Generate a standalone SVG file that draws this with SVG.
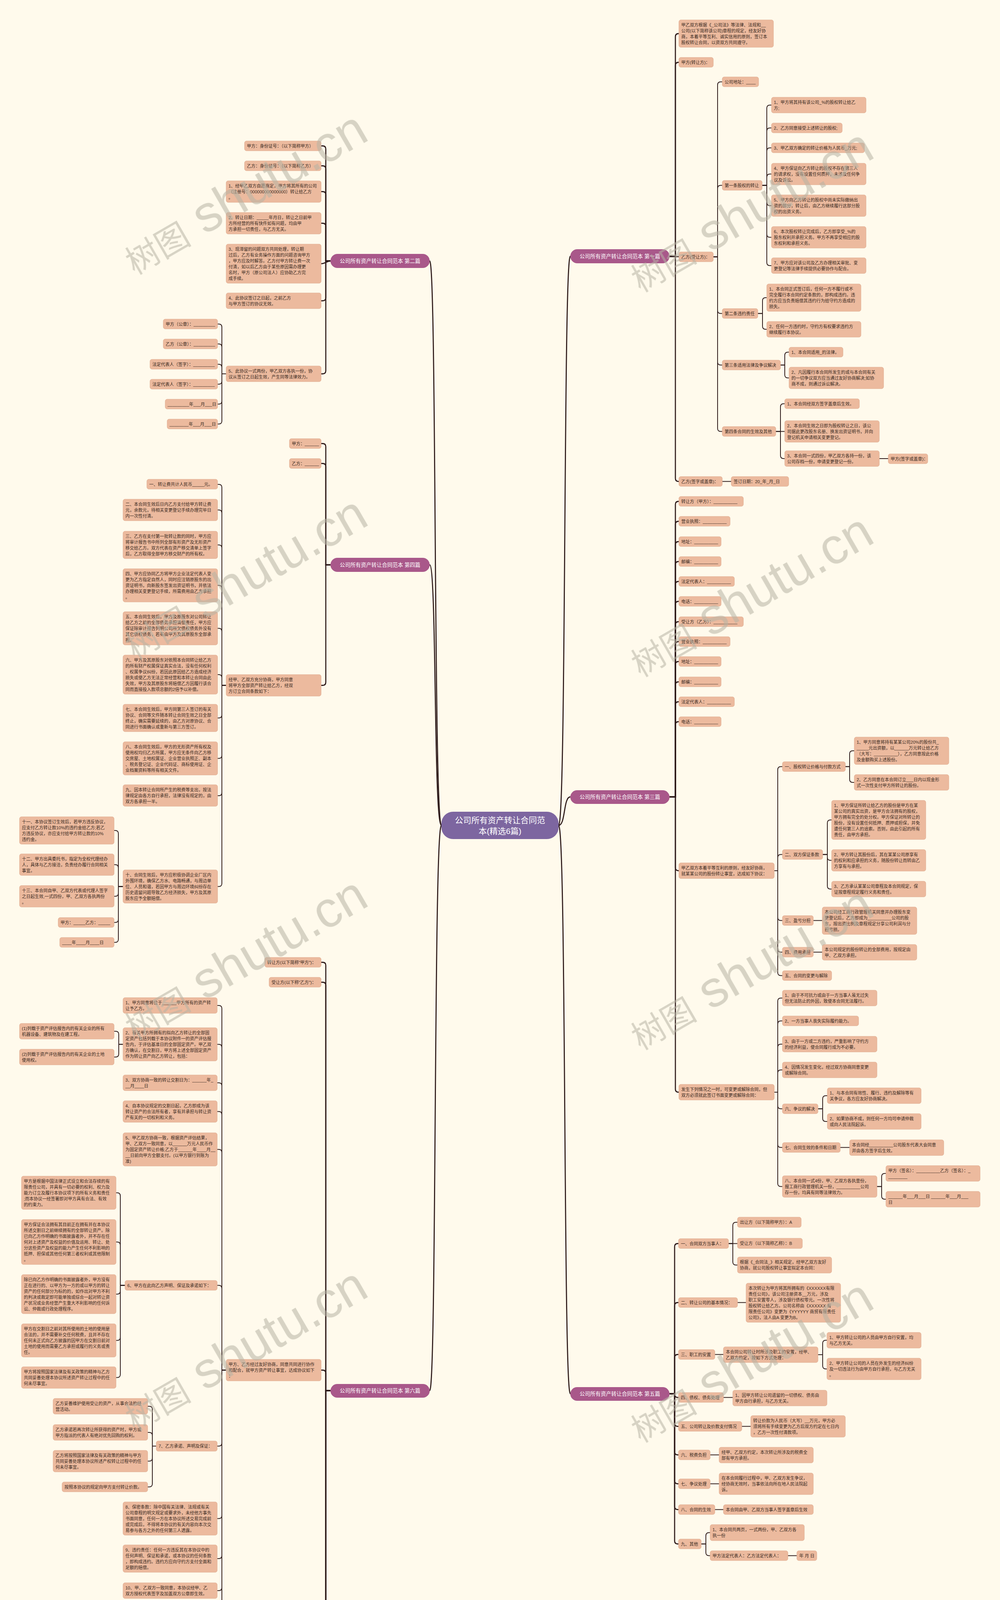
<svg xmlns="http://www.w3.org/2000/svg" width="2560" height="4723" viewBox="0 0 2560 4723">
<style>
.bg{fill:#fffaec}
.n rect{fill:#ecba9e;stroke:#e0ad91;stroke-width:1}
text{font-family:"Liberation Sans","Noto Sans CJK SC",sans-serif}
.t{font-size:11px;fill:#3a2a22}
.sec rect{fill:#a9588a}
.sec text{font-size:13.5px;fill:#ffffff;text-anchor:middle}
.root rect{fill:#7d66a0}
.root text{font-size:21px;fill:#ffffff;text-anchor:middle}
.c path{fill:none;stroke:#2f1c1c;stroke-width:2}
.c .k{stroke-width:2.8}
.wm{fill:#b7b3a5;opacity:.55;font-family:"Liberation Serif","Noto Sans CJK SC",serif}
</style>
<rect class="bg" x="0" y="0" width="2560" height="4723"/>

<g id="connectors" class="c">
<path class="k" d="M1430 2113 C1450 2113 1442 656 1460 656"/>
<path class="k" d="M1430 2113 C1448 2113 1442 2040 1460 2040"/>
<path class="k" d="M1430 2113 C1450 2113 1442 3568 1460 3568"/>
<path class="k" d="M1130 2113 C1110 2113 1118 668 1100 668"/>
<path class="k" d="M1130 2113 C1110 2113 1118 1446 1100 1446"/>
<path class="k" d="M1130 2113 C1110 2113 1118 3560 1100 3560"/>
<path class="k" d="M1714 656 H1729 V94 Q1729 86 1737 86 H1738"/>
<path class="k" d="M1714 656 H1729 V167.5 Q1729 159.5 1737 159.5 H1738"/>
<path class="k" d="M1714 657 H1738"/>
<path class="k" d="M1714 656 H1729 V1224.5 Q1729 1232.5 1737 1232.5 H1738"/>
<path d="M1826 657.5 H1837 V217.5 Q1837 209.5 1845 209.5 H1849"/>
<path d="M1826 657.5 H1837 V482.5 Q1837 474.5 1845 474.5 H1849"/>
<path d="M1826 657.5 H1837 V794.5 Q1837 802.5 1845 802.5 H1849"/>
<path d="M1826 657.5 H1837 V926.5 Q1837 934.5 1845 934.5 H1849"/>
<path d="M1826 657.5 H1837 V1096.5 Q1837 1104.5 1845 1104.5 H1849"/>
<path d="M1951 474.5 H1963 V277 Q1963 269 1971 269 H1975"/>
<path d="M1951 474.5 H1963 V335.5 Q1963 327.5 1971 327.5 H1975"/>
<path d="M1951 474.5 H1963 V386.5 Q1963 378.5 1971 378.5 H1975"/>
<path d="M1951 474.5 H1963 V453.5 Q1963 445.5 1971 445.5 H1975"/>
<path d="M1951 474.5 H1963 V518.5 Q1963 526.5 1971 526.5 H1975"/>
<path d="M1951 474.5 H1963 V599.5 Q1963 607.5 1971 607.5 H1975"/>
<path d="M1951 474.5 H1963 V672 Q1963 680 1971 680 H1975"/>
<path d="M1940 802.5 H1952 V770 Q1952 762 1960 762 H1963"/>
<path d="M1940 802.5 H1952 V835 Q1952 843 1960 843 H1963"/>
<path d="M1998 934.5 H2009 V909.5 Q2009 901.5 2017 901.5 H2020"/>
<path d="M1998 934.5 H2009 V959.5 Q2009 967.5 2017 967.5 H2020"/>
<path d="M1986 1104.5 H1998 V1041.5 Q1998 1033.5 2006 1033.5 H2009"/>
<path d="M1986 1104.5 H2009"/>
<path d="M1986 1104.5 H1998 V1166 Q1998 1174 2006 1174 H2009"/>
<path d="M2251 1174 H2274"/>
<path d="M1849 1232.5 H1872"/>
<path class="k" d="M1714 2040 H1729 V1291.5 Q1729 1283.5 1737 1283.5 H1738"/>
<path class="k" d="M1714 2040 H1729 V1342.5 Q1729 1334.5 1737 1334.5 H1738"/>
<path class="k" d="M1714 2040 H1729 V1394.5 Q1729 1386.5 1737 1386.5 H1738"/>
<path class="k" d="M1714 2040 H1729 V1445.5 Q1729 1437.5 1737 1437.5 H1738"/>
<path class="k" d="M1714 2040 H1729 V1496.5 Q1729 1488.5 1737 1488.5 H1738"/>
<path class="k" d="M1714 2040 H1729 V1547.5 Q1729 1539.5 1737 1539.5 H1738"/>
<path class="k" d="M1714 2040 H1729 V1599.5 Q1729 1591.5 1737 1591.5 H1738"/>
<path class="k" d="M1714 2040 H1729 V1650.5 Q1729 1642.5 1737 1642.5 H1738"/>
<path class="k" d="M1714 2040 H1729 V1701.5 Q1729 1693.5 1737 1693.5 H1738"/>
<path class="k" d="M1714 2040 H1729 V1753.5 Q1729 1745.5 1737 1745.5 H1738"/>
<path class="k" d="M1714 2040 H1729 V1804.5 Q1729 1796.5 1737 1796.5 H1738"/>
<path class="k" d="M1714 2040 H1729 V1855.5 Q1729 1847.5 1737 1847.5 H1738"/>
<path class="k" d="M1714 2040 H1729 V2221 Q1729 2229 1737 2229 H1738"/>
<path class="k" d="M1714 2040 H1729 V2788 Q1729 2796 1737 2796 H1738"/>
<path d="M1982 2229 H1991 V1970.5 Q1991 1962.5 1999 1962.5 H2003"/>
<path d="M1982 2229 H1991 V2195.5 Q1991 2187.5 1999 2187.5 H2003"/>
<path d="M1982 2229 H1991 V2348.5 Q1991 2356.5 1999 2356.5 H2003"/>
<path d="M1982 2229 H1991 V2429.5 Q1991 2437.5 1999 2437.5 H2003"/>
<path d="M1982 2229 H1991 V2489.5 Q1991 2497.5 1999 2497.5 H2003"/>
<path d="M2164 1962.5 H2175 V1930 Q2175 1922 2183 1922 H2187"/>
<path d="M2164 1962.5 H2175 V1995 Q2175 2003 2183 2003 H2187"/>
<path d="M2106 2187.5 H2118 V2107 Q2118 2099 2126 2099 H2129"/>
<path d="M2106 2187.5 H2118 V2194.5 Q2118 2202.5 2126 2202.5 H2129"/>
<path d="M2106 2187.5 H2118 V2268 Q2118 2276 2126 2276 H2129"/>
<path d="M2082 2356.5 H2105"/>
<path d="M2082 2437.5 H2105"/>
<path d="M1982 2796 H1991 V2563 Q1991 2555 1999 2555 H2003"/>
<path d="M1982 2796 H1991 V2621.5 Q1991 2613.5 1999 2613.5 H2003"/>
<path d="M1982 2796 H1991 V2681 Q1991 2673 1999 2673 H2003"/>
<path d="M1982 2796 H1991 V2747 Q1991 2739 1999 2739 H2003"/>
<path d="M1982 2796 H1991 V2830.5 Q1991 2838.5 1999 2838.5 H2003"/>
<path d="M1982 2796 H1991 V2929.5 Q1991 2937.5 1999 2937.5 H2003"/>
<path d="M1982 2796 H1991 V3029.5 Q1991 3037.5 1999 3037.5 H2003"/>
<path d="M2094 2838.5 H2106 V2813 Q2106 2805 2114 2805 H2118"/>
<path d="M2094 2838.5 H2106 V2863 Q2106 2871 2114 2871 H2118"/>
<path d="M2151 2937.5 H2175"/>
<path d="M2245 3037.5 H2257 V3012 Q2257 3004 2265 3004 H2268"/>
<path d="M2245 3037.5 H2257 V3062 Q2257 3070 2265 3070 H2268"/>
<path class="k" d="M1714 3568 H1727 V3191.5 Q1727 3183.5 1735 3183.5 H1737"/>
<path class="k" d="M1714 3568 H1727 V3342.5 Q1727 3334.5 1735 3334.5 H1737"/>
<path class="k" d="M1714 3568 H1727 V3475.5 Q1727 3467.5 1735 3467.5 H1737"/>
<path class="k" d="M1714 3568 H1727 V3569.5 Q1727 3577.5 1735 3577.5 H1737"/>
<path class="k" d="M1714 3568 H1727 V3643.5 Q1727 3651.5 1735 3651.5 H1737"/>
<path class="k" d="M1714 3568 H1727 V3716.5 Q1727 3724.5 1735 3724.5 H1737"/>
<path class="k" d="M1714 3568 H1727 V3790.5 Q1727 3798.5 1735 3798.5 H1737"/>
<path class="k" d="M1714 3568 H1727 V3856.5 Q1727 3864.5 1735 3864.5 H1737"/>
<path class="k" d="M1714 3568 H1727 V3944.5 Q1727 3952.5 1735 3952.5 H1737"/>
<path d="M1865 3183.5 H1876 V3137 Q1876 3129 1884 3129 H1888"/>
<path d="M1865 3183.5 H1888"/>
<path d="M1865 3183.5 H1876 V3230.5 Q1876 3238.5 1884 3238.5 H1888"/>
<path d="M1888 3334.5 H1910"/>
<path d="M1830 3467.5 H1852"/>
<path d="M2094 3468 H2106 V3439 Q2106 3431 2114 3431 H2117"/>
<path d="M2094 3468 H2106 V3496.5 Q2106 3504.5 2114 3504.5 H2117"/>
<path d="M1852 3577.5 H1876"/>
<path d="M1899 3651.5 H1922"/>
<path d="M1818 3724.5 H1841"/>
<path d="M1818 3798.5 H1841"/>
<path d="M1830 3864.5 H1852"/>
<path d="M1795 3952.5 H1807 V3931.5 Q1807 3923.5 1815 3923.5 H1818"/>
<path d="M1795 3952.5 H1807 V3974.5 Q1807 3982.5 1815 3982.5 H1818"/>
<path d="M2017 3982.5 H2040"/>
<path class="k" d="M846 668 H834 V381.5 Q834 373.5 826 373.5 H822"/>
<path class="k" d="M846 668 H834 V432.5 Q834 424.5 826 424.5 H822"/>
<path class="k" d="M846 668 H834 V498.5 Q834 490.5 826 490.5 H822"/>
<path class="k" d="M846 668 H834 V579.5 Q834 571.5 826 571.5 H822"/>
<path class="k" d="M846 668 C838 668 832 675 822 675"/>
<path class="k" d="M846 668 H834 V762 Q834 770 826 770 H822"/>
<path class="k" d="M846 668 H834 V949 Q834 957 826 957 H822"/>
<path d="M579 957 H568 V837.5 Q568 829.5 560 829.5 H557"/>
<path d="M579 957 H568 V888.5 Q568 880.5 560 880.5 H557"/>
<path d="M579 957 H568 V940.5 Q568 932.5 560 932.5 H557"/>
<path d="M579 957 H568 V975.5 Q568 983.5 560 983.5 H557"/>
<path d="M579 957 H568 V1026.5 Q568 1034.5 560 1034.5 H557"/>
<path d="M579 957 H568 V1077.5 Q568 1085.5 560 1085.5 H557"/>
<path class="k" d="M846 1446 H834 V1143.5 Q834 1135.5 826 1135.5 H822"/>
<path class="k" d="M846 1446 H834 V1194.5 Q834 1186.5 826 1186.5 H822"/>
<path class="k" d="M846 1446 H834 V1746.5 Q834 1754.5 826 1754.5 H822"/>
<path d="M579 1754.5 H568 V1248 Q568 1240 560 1240 H557"/>
<path d="M579 1754.5 H568 V1313.5 Q568 1305.5 560 1305.5 H557"/>
<path d="M579 1754.5 H568 V1403 Q568 1395 560 1395 H557"/>
<path d="M579 1754.5 H568 V1506.5 Q568 1498.5 560 1498.5 H557"/>
<path d="M579 1754.5 H568 V1616.5 Q568 1608.5 560 1608.5 H557"/>
<path d="M579 1754.5 H568 V1735 Q568 1727 560 1727 H557"/>
<path d="M579 1754.5 H568 V1830 Q568 1838 560 1838 H557"/>
<path d="M579 1754.5 H568 V1933.5 Q568 1941.5 560 1941.5 H557"/>
<path d="M579 1754.5 H568 V2029 Q568 2037 560 2037 H557"/>
<path d="M579 1754.5 H568 V2261.5 Q568 2269.5 560 2269.5 H557"/>
<path d="M315 2269.5 H303 V2134 Q303 2126 295 2126 H292"/>
<path d="M315 2269.5 H303 V2221.5 Q303 2213.5 295 2213.5 H292"/>
<path d="M315 2269.5 H303 V2286.5 Q303 2294.5 295 2294.5 H292"/>
<path d="M315 2269.5 H303 V2353.5 Q303 2361.5 295 2361.5 H292"/>
<path d="M315 2269.5 H303 V2404.5 Q303 2412.5 295 2412.5 H292"/>
<path class="k" d="M846 3560 H834 V2471.5 Q834 2463.5 826 2463.5 H822"/>
<path class="k" d="M846 3560 H834 V2522.5 Q834 2514.5 826 2514.5 H822"/>
<path class="k" d="M846 3560 H834 V3515.5 Q834 3507.5 826 3507.5 H822"/>
<path class="k" d="M846 3560 H834 V4497.5 Q834 4505.5 826 4505.5 H822"/>
<path class="k" d="M846 3560 H834 V4548.5 Q834 4556.5 826 4556.5 H822"/>
<path class="k" d="M846 3560 H834 V4599.5 Q834 4607.5 826 4607.5 H822"/>
<path class="k" d="M846 3560 H834 V4650.5 Q834 4658.5 826 4658.5 H822"/>
<path d="M579 3507.5 H568 V2582 Q568 2574 560 2574 H556"/>
<path d="M579 3507.5 H568 V2681.5 Q568 2673.5 560 2673.5 H556"/>
<path d="M579 3507.5 H568 V2780 Q568 2772 560 2772 H556"/>
<path d="M579 3507.5 H568 V2853.5 Q568 2845.5 560 2845.5 H556"/>
<path d="M579 3507.5 H568 V2950.5 Q568 2942.5 560 2942.5 H556"/>
<path d="M579 3507.5 H568 V3298.5 Q568 3290.5 560 3290.5 H556"/>
<path d="M579 3507.5 H568 V3694 Q568 3702 560 3702 H556"/>
<path d="M579 3507.5 H568 V3879.5 Q568 3887.5 560 3887.5 H556"/>
<path d="M579 3507.5 H568 V3982 Q568 3990 560 3990 H556"/>
<path d="M579 3507.5 H568 V4064 Q568 4072 560 4072 H556"/>
<path d="M579 3507.5 H568 V4165.5 Q568 4173.5 560 4173.5 H556"/>
<path d="M579 3507.5 H568 V4284.5 Q568 4292.5 560 4292.5 H556"/>
<path d="M579 3507.5 H568 V4357 Q568 4365 560 4365 H556"/>
<path d="M579 3507.5 H568 V4431.5 Q568 4439.5 560 4439.5 H556"/>
<path d="M315 2673.5 H304 V2648 Q304 2640 296 2640 H292"/>
<path d="M315 2673.5 H304 V2698 Q304 2706 296 2706 H292"/>
<path d="M320 3290.5 H308 V3061.5 Q308 3053.5 300 3053.5 H297"/>
<path d="M320 3290.5 H308 V3187.5 Q308 3179.5 300 3179.5 H297"/>
<path d="M320 3290.5 H308 V3305 Q308 3313 300 3313 H297"/>
<path d="M320 3290.5 H308 V3423.5 Q308 3431.5 300 3431.5 H297"/>
<path d="M320 3290.5 H308 V3518.5 Q308 3526.5 300 3526.5 H297"/>
<path d="M400 3702 H390 V3608 Q390 3600 382 3600 H378"/>
<path d="M400 3702 H390 V3675 Q390 3667 382 3667 H378"/>
<path d="M400 3702 H390 V3732.5 Q390 3740.5 382 3740.5 H378"/>
<path d="M400 3702 H390 V3798.5 Q390 3806.5 382 3806.5 H378"/>
<path d="M463 4173.5 H452 V4147 Q452 4139 444 4139 H440"/>
<path d="M463 4173.5 H452 V4204.5 Q452 4212.5 444 4212.5 H440"/>
<path d="M710 4556.5 H689"/>
<path d="M710 4658.5 H689"/>
</g>

<g id="root" class="root"><rect x="1130" y="2078" width="300" height="70" rx="30"/><text x="1280" y="2107">公司所有资产转让合同范</text><text x="1280" y="2135">本(精选6篇)</text></g>

<g id="sec1" class="sec"><rect x="1460" y="638" width="254" height="36" rx="18"/><text x="1587" y="661">公司所有资产转让合同范本 第一篇</text></g>
<g id="sec2" class="sec"><rect x="846" y="650" width="254" height="36" rx="18"/><text x="973" y="673">公司所有资产转让合同范本 第二篇</text></g>
<g id="sec3" class="sec"><rect x="1460" y="2023" width="254" height="35" rx="17.5"/><text x="1587" y="2045">公司所有资产转让合同范本 第三篇</text></g>
<g id="sec4" class="sec"><rect x="846" y="1428" width="254" height="36" rx="18"/><text x="973" y="1451">公司所有资产转让合同范本 第四篇</text></g>
<g id="sec5" class="sec"><rect x="1460" y="3551" width="254" height="35" rx="17.5"/><text x="1587" y="3573">公司所有资产转让合同范本 第五篇</text></g>
<g id="sec6" class="sec"><rect x="846" y="3543" width="254" height="35" rx="17.5"/><text x="973" y="3565">公司所有资产转让合同范本 第六篇</text></g>

<g id="n1-intro" class="n"><rect x="1738" y="51" width="242" height="70" rx="5"/><text class="t"><tspan x="1744" y="67.5">甲乙双方根据《_公司法》等法律、法规和__</tspan><tspan x="1744" y="82.5">公司(以下简称该公司)章程的规定，经友好协</tspan><tspan x="1744" y="97.5">商，本着平等互利、诚实信用的原则，签订本</tspan><tspan x="1744" y="112.5">股权转让合同，以资双方共同遵守。</tspan></text></g>
<g id="n1-jia" class="n"><rect x="1738" y="147" width="88" height="25" rx="5"/><text class="t" x="1744" y="163.5">甲方(转让方)：</text></g>
<g id="n1-yi" class="n"><rect x="1738" y="645" width="88" height="25" rx="5"/><text class="t" x="1744" y="661.5">乙方(受让方)：</text></g>
<g id="n1-a" class="n"><rect x="1849" y="197" width="93" height="25" rx="5"/><text class="t" x="1855" y="213.5">公司地址：____</text></g>
<g id="n1-b" class="n"><rect x="1849" y="462" width="102" height="25" rx="5"/><text class="t" x="1855" y="478.5">第一条股权的转让</text></g>
<g id="n1-b1" class="n"><rect x="1975" y="249" width="242" height="40" rx="5"/><text class="t"><tspan x="1981" y="265.5">1、甲方将其持有该公司_%的股权转让给乙</tspan><tspan x="1981" y="280.5">方;</tspan></text></g>
<g id="n1-b2" class="n"><rect x="1975" y="315" width="181" height="25" rx="5"/><text class="t" x="1981" y="331.5">2、乙方同意接受上述转让的股权;</text></g>
<g id="n1-b3" class="n"><rect x="1975" y="366" width="238" height="25" rx="5"/><text class="t" x="1981" y="382.5">3、甲乙双方确定的转让价格为人民币_万元;</text></g>
<g id="n1-b4" class="n"><rect x="1975" y="418" width="242" height="55" rx="5"/><text class="t"><tspan x="1981" y="434.5">4、甲方保证向乙方转让的股权不存在第三人</tspan><tspan x="1981" y="449.5">的请求权，没有设置任何质押，未涉及任何争</tspan><tspan x="1981" y="464.5">议及诉讼。</tspan></text></g>
<g id="n1-b5" class="n"><rect x="1975" y="499" width="242" height="55" rx="5"/><text class="t"><tspan x="1981" y="515.5">5、甲方向乙方转让的股权中尚未实际缴纳出</tspan><tspan x="1981" y="530.5">资的部分，转让后，由乙方继续履行这部分股</tspan><tspan x="1981" y="545.5">权的出资义务。</tspan></text></g>
<g id="n1-b6" class="n"><rect x="1975" y="580" width="242" height="55" rx="5"/><text class="t"><tspan x="1981" y="596.5">6、本次股权转让完成后，乙方即享受_%的</tspan><tspan x="1981" y="611.5">股东权利并承担义务。甲方不再享受相应的股</tspan><tspan x="1981" y="626.5">东权利和承担义务。</tspan></text></g>
<g id="n1-b7" class="n"><rect x="1975" y="660" width="242" height="40" rx="5"/><text class="t"><tspan x="1981" y="676.5">7、甲方应对该公司及乙方办理相关审批、变</tspan><tspan x="1981" y="691.5">更登记等法律手续提供必要协作与配合。</tspan></text></g>
<g id="n1-c" class="n"><rect x="1849" y="790" width="91" height="25" rx="5"/><text class="t" x="1855" y="806.5">第二条违约责任</text></g>
<g id="n1-c1" class="n"><rect x="1963" y="727" width="241" height="70" rx="5"/><text class="t"><tspan x="1969" y="743.5">1、本合同正式签订后，任何一方不履行或不</tspan><tspan x="1969" y="758.5">完全履行本合同约定条款的，即构成违约。违</tspan><tspan x="1969" y="773.5">约方应当负责赔偿其违约行为给守约方造成的</tspan><tspan x="1969" y="788.5">损失。</tspan></text></g>
<g id="n1-c2" class="n"><rect x="1963" y="823" width="241" height="40" rx="5"/><text class="t"><tspan x="1969" y="839.5">2、任何一方违约时，守约方有权要求违约方</tspan><tspan x="1969" y="854.5">继续履行本协议。</tspan></text></g>
<g id="n1-d" class="n"><rect x="1849" y="922" width="149" height="25" rx="5"/><text class="t" x="1855" y="938.5">第三条适用法律及争议解决</text></g>
<g id="n1-d1" class="n"><rect x="2020" y="889" width="138" height="25" rx="5"/><text class="t" x="2026" y="905.5">1、本合同适用_的法律。</text></g>
<g id="n1-d2" class="n"><rect x="2020" y="940" width="242" height="55" rx="5"/><text class="t"><tspan x="2026" y="956.5">2、凡因履行本合同所发生的或与本合同有关</tspan><tspan x="2026" y="971.5">的一切争议双方应当通过友好协商解决;如协</tspan><tspan x="2026" y="986.5">商不成，则通过诉讼解决。</tspan></text></g>
<g id="n1-e" class="n"><rect x="1849" y="1092" width="137" height="25" rx="5"/><text class="t" x="1855" y="1108.5">第四条合同的生效及其他</text></g>
<g id="n1-e1" class="n"><rect x="2009" y="1021" width="191" height="25" rx="5"/><text class="t" x="2015" y="1037.5">1、本合同经双方签字盖章后生效。</text></g>
<g id="n1-e2" class="n"><rect x="2009" y="1077" width="242" height="55" rx="5"/><text class="t"><tspan x="2015" y="1093.5">2、本合同生效之日即为股权转让之日，该公</tspan><tspan x="2015" y="1108.5">司据此更改股东名册、换发出资证明书，并向</tspan><tspan x="2015" y="1123.5">登记机关申请相关变更登记。</tspan></text></g>
<g id="n1-e3" class="n"><rect x="2009" y="1154" width="242" height="40" rx="5"/><text class="t"><tspan x="2015" y="1170.5">3、本合同一式四份，甲乙双方各持一份，该</tspan><tspan x="2015" y="1185.5">公司存档一份，申请变更登记一份。</tspan></text></g>
<g id="n1-e3a" class="n"><rect x="2274" y="1162" width="101" height="25" rx="5"/><text class="t" x="2280" y="1178.5">甲方(签字或盖章)：</text></g>
<g id="n1-sign" class="n"><rect x="1738" y="1220" width="111" height="25" rx="5"/><text class="t" x="1744" y="1236.5">乙方(签字或盖章)：</text></g>
<g id="n1-date" class="n"><rect x="1872" y="1220" width="147" height="25" rx="5"/><text class="t" x="1878" y="1236.5">签订日期：20_年_月_日</text></g>

<g id="n3-1" class="n"><rect x="1738" y="1271" width="165" height="25" rx="5"/><text class="t" x="1744" y="1287.5">转让方（甲方）：__________</text></g>
<g id="n3-2" class="n"><rect x="1738" y="1322" width="131" height="25" rx="5"/><text class="t" x="1744" y="1338.5">营业执照：__________</text></g>
<g id="n3-3" class="n"><rect x="1738" y="1374" width="108" height="25" rx="5"/><text class="t" x="1744" y="1390.5">地址：__________</text></g>
<g id="n3-4" class="n"><rect x="1738" y="1425" width="108" height="25" rx="5"/><text class="t" x="1744" y="1441.5">邮编：__________</text></g>
<g id="n3-5" class="n"><rect x="1738" y="1476" width="142" height="25" rx="5"/><text class="t" x="1744" y="1492.5">法定代表人：__________</text></g>
<g id="n3-6" class="n"><rect x="1738" y="1527" width="108" height="25" rx="5"/><text class="t" x="1744" y="1543.5">电话：__________</text></g>
<g id="n3-7" class="n"><rect x="1738" y="1579" width="165" height="25" rx="5"/><text class="t" x="1744" y="1595.5">受让方（乙方）：__________</text></g>
<g id="n3-8" class="n"><rect x="1738" y="1630" width="131" height="25" rx="5"/><text class="t" x="1744" y="1646.5">营业执照：__________</text></g>
<g id="n3-9" class="n"><rect x="1738" y="1681" width="108" height="25" rx="5"/><text class="t" x="1744" y="1697.5">地址：__________</text></g>
<g id="n3-10" class="n"><rect x="1738" y="1733" width="108" height="25" rx="5"/><text class="t" x="1744" y="1749.5">邮编：__________</text></g>
<g id="n3-11" class="n"><rect x="1738" y="1784" width="142" height="25" rx="5"/><text class="t" x="1744" y="1800.5">法定代表人：__________</text></g>
<g id="n3-12" class="n"><rect x="1738" y="1835" width="108" height="25" rx="5"/><text class="t" x="1744" y="1851.5">电话：__________</text></g>
<g id="n3-13" class="n"><rect x="1738" y="2209" width="244" height="40" rx="5"/><text class="t"><tspan x="1744" y="2225.5">甲乙双方本着平等互利的原则，经友好协商，</tspan><tspan x="1744" y="2240.5">就某某公司的股份转让事宜，达成如下协议：</tspan></text></g>
<g id="n3-13a" class="n"><rect x="2003" y="1950" width="161" height="25" rx="5"/><text class="t" x="2009" y="1966.5">一、股权转让价格与付款方式</text></g>
<g id="n3-13a1" class="n"><rect x="2187" y="1887" width="242" height="70" rx="5"/><text class="t"><tspan x="2193" y="1903.5">1、甲方同意将持有某某公司20%的股份共_</tspan><tspan x="2193" y="1918.5">_____元出资额，以______万元转让给乙方</tspan><tspan x="2193" y="1933.5">（大写：__________），乙方同意按此价格</tspan><tspan x="2193" y="1948.5">及金额购买上述股份。</tspan></text></g>
<g id="n3-13a2" class="n"><rect x="2187" y="1983" width="242" height="40" rx="5"/><text class="t"><tspan x="2193" y="1999.5">2、乙方同意在本合同订立___日内以现金形</tspan><tspan x="2193" y="2014.5">式一次性支付甲方所转让的股份。</tspan></text></g>
<g id="n3-13b" class="n"><rect x="2003" y="2175" width="103" height="25" rx="5"/><text class="t" x="2009" y="2191.5">二、双方保证条款</text></g>
<g id="n3-13b1" class="n"><rect x="2129" y="2049" width="241" height="100" rx="5"/><text class="t"><tspan x="2135" y="2065.5">1、甲方保证所转让给乙方的股份是甲方在某</tspan><tspan x="2135" y="2080.5">某公司的真实出资，是甲方合法拥有的股权，</tspan><tspan x="2135" y="2095.5">甲方拥有完全的处分权。甲方保证对所转让的</tspan><tspan x="2135" y="2110.5">股份，没有设置任何抵押、质押或担保，并免</tspan><tspan x="2135" y="2125.5">遭任何第三人的追索。否则，由此引起的所有</tspan><tspan x="2135" y="2140.5">责任，由甲方承担。</tspan></text></g>
<g id="n3-13b2" class="n"><rect x="2129" y="2175" width="241" height="55" rx="5"/><text class="t"><tspan x="2135" y="2191.5">2、甲方转让其股份后，其在某某公司原享有</tspan><tspan x="2135" y="2206.5">的权利和应承担的义务，随股份转让而转由乙</tspan><tspan x="2135" y="2221.5">方享有与承担。</tspan></text></g>
<g id="n3-13b3" class="n"><rect x="2129" y="2256" width="241" height="40" rx="5"/><text class="t"><tspan x="2135" y="2272.5">3、乙方承认某某公司章程及本合同规定，保</tspan><tspan x="2135" y="2287.5">证按章程规定履行义务和责任。</tspan></text></g>
<g id="n3-13c" class="n"><rect x="2003" y="2344" width="79" height="25" rx="5"/><text class="t" x="2009" y="2360.5">三、盈亏分担</text></g>
<g id="n3-13c1" class="n"><rect x="2105" y="2322" width="242" height="70" rx="5"/><text class="t"><tspan x="2111" y="2338.5">本公司经工商行政管理机关同意并办理股东变</tspan><tspan x="2111" y="2353.5">更登记后，乙方即成为__________公司的股</tspan><tspan x="2111" y="2368.5">东，按出资比例及章程规定分享公司利润与分</tspan><tspan x="2111" y="2383.5">担亏损。</tspan></text></g>
<g id="n3-13d" class="n"><rect x="2003" y="2425" width="79" height="25" rx="5"/><text class="t" x="2009" y="2441.5">四、费用承担</text></g>
<g id="n3-13d1" class="n"><rect x="2105" y="2418" width="242" height="40" rx="5"/><text class="t"><tspan x="2111" y="2434.5">本公司规定的股份转让的全部费用，按规定由</tspan><tspan x="2111" y="2449.5">甲、乙双方承担。</tspan></text></g>
<g id="n3-13e" class="n"><rect x="2003" y="2485" width="126" height="25" rx="5"/><text class="t" x="2009" y="2501.5">五、合同的变更与解除</text></g>
<g id="n3-14" class="n"><rect x="1738" y="2776" width="244" height="40" rx="5"/><text class="t"><tspan x="1744" y="2792.5">发生下列情况之一时，可变更或解除合同，但</tspan><tspan x="1744" y="2807.5">双方必须就此签订书面变更或解除合同：</tspan></text></g>
<g id="n3-14a" class="n"><rect x="2003" y="2535" width="242" height="40" rx="5"/><text class="t"><tspan x="2009" y="2551.5">1、由于不可抗力或由于一方当事人虽无过失</tspan><tspan x="2009" y="2566.5">但无法防止的外因，致使本合同无法履行。</tspan></text></g>
<g id="n3-14b" class="n"><rect x="2003" y="2601" width="195" height="25" rx="5"/><text class="t" x="2009" y="2617.5">2、一方当事人丧失实际履约能力。</text></g>
<g id="n3-14c" class="n"><rect x="2003" y="2653" width="242" height="40" rx="5"/><text class="t"><tspan x="2009" y="2669.5">3、由于一方或二方违约，严重影响了守约方</tspan><tspan x="2009" y="2684.5">的经济利益，使合同履行成为不必要。</tspan></text></g>
<g id="n3-14d" class="n"><rect x="2003" y="2719" width="242" height="40" rx="5"/><text class="t"><tspan x="2009" y="2735.5">4、因情况发生变化，经过双方协商同意变更</tspan><tspan x="2009" y="2750.5">或解除合同。</tspan></text></g>
<g id="n3-14e" class="n"><rect x="2003" y="2826" width="91" height="25" rx="5"/><text class="t" x="2009" y="2842.5">六、争议的解决</text></g>
<g id="n3-14e1" class="n"><rect x="2118" y="2785" width="240" height="40" rx="5"/><text class="t"><tspan x="2124" y="2801.5">1、与本合同有效性、履行、违约及解除等有</tspan><tspan x="2124" y="2816.5">关争议，各方应友好协商解决。</tspan></text></g>
<g id="n3-14e2" class="n"><rect x="2118" y="2851" width="240" height="40" rx="5"/><text class="t"><tspan x="2124" y="2867.5">2、如果协商不成，则任何一方均可申请仲裁</tspan><tspan x="2124" y="2882.5">或向人民法院起诉。</tspan></text></g>
<g id="n3-14f" class="n"><rect x="2003" y="2925" width="148" height="25" rx="5"/><text class="t" x="2009" y="2941.5">七、合同生效的条件和日期</text></g>
<g id="n3-14f1" class="n"><rect x="2175" y="2918" width="241" height="40" rx="5"/><text class="t"><tspan x="2181" y="2934.5">本合同经__________公司股东代表大会同意</tspan><tspan x="2181" y="2949.5">并由各方签字后生效。</tspan></text></g>
<g id="n3-14g" class="n"><rect x="2003" y="3010" width="242" height="55" rx="5"/><text class="t"><tspan x="2009" y="3026.5">八、本合同一式4份，甲、乙双方各执壹份，</tspan><tspan x="2009" y="3041.5">报工商行政管理机关一份，__________公司</tspan><tspan x="2009" y="3056.5">存一份，均具有同等法律效力。</tspan></text></g>
<g id="n3-14g1" class="n"><rect x="2268" y="2984" width="241" height="40" rx="5"/><text class="t"><tspan x="2274" y="3000.5">甲方（签名）：__________乙方（签名）：_</tspan><tspan x="2274" y="3015.5">________</tspan></text></g>
<g id="n3-14g2" class="n"><rect x="2268" y="3050" width="241" height="40" rx="5"/><text class="t"><tspan x="2274" y="3066.5">______年___月___日 ______年___月___</tspan><tspan x="2274" y="3081.5">日</tspan></text></g>

<g id="n5-1" class="n"><rect x="1737" y="3171" width="128" height="25" rx="5"/><text class="t" x="1743" y="3187.5">一、合同双方当事人：</text></g>
<g id="n5-1a" class="n"><rect x="1888" y="3116" width="163" height="26" rx="5"/><text class="t" x="1894" y="3133">出让方（以下简称甲方）：A</text></g>
<g id="n5-1b" class="n"><rect x="1888" y="3170" width="166" height="26" rx="5"/><text class="t" x="1894" y="3187">受让方（以下简称乙称）：B</text></g>
<g id="n5-1c" class="n"><rect x="1888" y="3218" width="241" height="41" rx="5"/><text class="t"><tspan x="1894" y="3234.5">根据《_合同法_》相关规定，经甲乙双方友好</tspan><tspan x="1894" y="3249.5">协商，就公司股权转让事宜拟定本合同：</tspan></text></g>
<g id="n5-2" class="n"><rect x="1737" y="3322" width="151" height="25" rx="5"/><text class="t" x="1743" y="3338.5">二、转让公司的基本情况：</text></g>
<g id="n5-2a" class="n"><rect x="1910" y="3285" width="242" height="100" rx="5"/><text class="t"><tspan x="1916" y="3301.5">本次转让为甲方将其所拥有的《XXXXXX有限</tspan><tspan x="1916" y="3316.5">责任公司》，该公司注册资本__万元，涉及</tspan><tspan x="1916" y="3331.5">职工安置零人，涉及银行债权零元。一次性将</tspan><tspan x="1916" y="3346.5">股权转让给乙方。公司名称由《XXXXXX 有</tspan><tspan x="1916" y="3361.5">限责任公司》变更为《YYYYYY 商贸有限责任</tspan><tspan x="1916" y="3376.5">公司》，法人由A 变更为B。</tspan></text></g>
<g id="n5-3" class="n"><rect x="1737" y="3455" width="93" height="25" rx="5"/><text class="t" x="1743" y="3471.5">三、职工的安置</text></g>
<g id="n5-3a" class="n"><rect x="1852" y="3448" width="242" height="40" rx="5"/><text class="t"><tspan x="1858" y="3464.5">本合同公司转让时所涉及职工的安置，经甲、</tspan><tspan x="1858" y="3479.5">乙双方约定，按如下方式处理：</tspan></text></g>
<g id="n5-3a1" class="n"><rect x="2117" y="3411" width="241" height="40" rx="5"/><text class="t"><tspan x="2123" y="3427.5">1、甲方转让公司的人员由甲方自行安置，均</tspan><tspan x="2123" y="3442.5">与乙方无关。</tspan></text></g>
<g id="n5-3a2" class="n"><rect x="2117" y="3477" width="241" height="55" rx="5"/><text class="t"><tspan x="2123" y="3493.5">2、甲方转让公司的人员在外发生的经济纠纷</tspan><tspan x="2123" y="3508.5">及一切违法行为由甲方自行承担，与乙方无关</tspan><tspan x="2123" y="3523.5">。</tspan></text></g>
<g id="n5-4" class="n"><rect x="1737" y="3565" width="115" height="25" rx="5"/><text class="t" x="1743" y="3581.5">四、债权、债务处理</text></g>
<g id="n5-4a" class="n"><rect x="1876" y="3559" width="241" height="40" rx="5"/><text class="t"><tspan x="1882" y="3575.5">1、因甲方转让公司遗留的一切债权、债务由</tspan><tspan x="1882" y="3590.5">甲方自行承担，与乙方无关。</tspan></text></g>
<g id="n5-5" class="n"><rect x="1737" y="3639" width="162" height="25" rx="5"/><text class="t" x="1743" y="3655.5">五、公司转让及价款支付情况</text></g>
<g id="n5-5a" class="n"><rect x="1922" y="3624" width="242" height="55" rx="5"/><text class="t"><tspan x="1928" y="3640.5">转让价款为人民币（大写）__万元，甲方必</tspan><tspan x="1928" y="3655.5">须将所有手续变更为乙方后双方约定在七日内</tspan><tspan x="1928" y="3670.5">，乙方一次性付清款项。</tspan></text></g>
<g id="n5-6" class="n"><rect x="1737" y="3712" width="81" height="25" rx="5"/><text class="t" x="1743" y="3728.5">六、税费负担</text></g>
<g id="n5-6a" class="n"><rect x="1841" y="3705" width="241" height="40" rx="5"/><text class="t"><tspan x="1847" y="3721.5">经甲、乙双方约定，本次转让所涉及的税费全</tspan><tspan x="1847" y="3736.5">部有甲方承担。</tspan></text></g>
<g id="n5-7" class="n"><rect x="1737" y="3786" width="81" height="25" rx="5"/><text class="t" x="1743" y="3802.5">七、争议处理</text></g>
<g id="n5-7a" class="n"><rect x="1841" y="3771" width="241" height="55" rx="5"/><text class="t"><tspan x="1847" y="3787.5">在本合同履行过程中，甲、乙双方发生争议，</tspan><tspan x="1847" y="3802.5">经协商无效时，当事依法向所在地人民法院起</tspan><tspan x="1847" y="3817.5">诉。</tspan></text></g>
<g id="n5-8" class="n"><rect x="1737" y="3852" width="93" height="25" rx="5"/><text class="t" x="1743" y="3868.5">八、合同的生效</text></g>
<g id="n5-8a" class="n"><rect x="1852" y="3852" width="230" height="25" rx="5"/><text class="t" x="1858" y="3868.5">本合同由甲、乙双方当事人签字盖章后生效</text></g>
<g id="n5-9" class="n"><rect x="1737" y="3940" width="58" height="25" rx="5"/><text class="t" x="1743" y="3956.5">九、其他</text></g>
<g id="n5-9a" class="n"><rect x="1818" y="3903" width="241" height="41" rx="5"/><text class="t"><tspan x="1824" y="3919.5">1、本合同共两页，一式两份，甲、乙双方各</tspan><tspan x="1824" y="3934.5">执一份</tspan></text></g>
<g id="n5-9b" class="n"><rect x="1818" y="3970" width="199" height="25" rx="5"/><text class="t" x="1824" y="3986.5">甲方法定代表人：乙方法定代表人：</text></g>
<g id="n5-9c" class="n"><rect x="2040" y="3970" width="51" height="25" rx="5"/><text class="t" x="2046" y="3986.5">年 月 日</text></g>

<g id="n2-jia" class="n"><rect x="626" y="361" width="196" height="25" rx="5"/><text class="t" x="632" y="377.5">甲方：身份证号：（以下简称甲方）</text></g>
<g id="n2-yi" class="n"><rect x="626" y="412" width="196" height="25" rx="5"/><text class="t" x="632" y="428.5">乙方：身份证号：（以下简称乙方）</text></g>
<g id="n2-1" class="n"><rect x="579" y="463" width="243" height="55" rx="5"/><text class="t"><tspan x="585" y="479.5">1、经甲乙双方自愿商定，甲方将其所有的公司</tspan><tspan x="585" y="494.5">（注册号：000000000000000）转让给乙方</tspan><tspan x="585" y="509.5">。</tspan></text></g>
<g id="n2-2" class="n"><rect x="579" y="544" width="243" height="55" rx="5"/><text class="t"><tspan x="585" y="560.5">2、转让日期：_____年月日，转让之日前甲</tspan><tspan x="585" y="575.5">方所经营的所有快件如有问题，均由甲</tspan><tspan x="585" y="590.5">方承担一切责任，与乙方无关。</tspan></text></g>
<g id="n2-3" class="n"><rect x="579" y="625" width="243" height="100" rx="5"/><text class="t"><tspan x="585" y="641.5">3、现滞留的问题双方共同处理，转让期</tspan><tspan x="585" y="656.5">过后，乙方有业务操作方面的问题咨询甲方</tspan><tspan x="585" y="671.5">，甲方应及时解答。乙方付甲方转让费一次</tspan><tspan x="585" y="686.5">付清，如以后乙方由于某些原因需办理更</tspan><tspan x="585" y="701.5">名时，甲方（原公司法人）应协助乙方完</tspan><tspan x="585" y="716.5">成手续。</tspan></text></g>
<g id="n2-4" class="n"><rect x="579" y="750" width="243" height="40" rx="5"/><text class="t"><tspan x="585" y="766.5">4、此协议签订之日起，之前乙方</tspan><tspan x="585" y="781.5">与甲方签订的协议无效。</tspan></text></g>
<g id="n2-5" class="n"><rect x="579" y="937" width="243" height="40" rx="5"/><text class="t"><tspan x="585" y="953.5">5、此协议一式两份，甲乙双方各执一份，协</tspan><tspan x="585" y="968.5">议从签订之日起生效，产生同等法律效力。</tspan></text></g>
<g id="n2-5a" class="n"><rect x="418" y="817" width="139" height="25" rx="5"/><text class="t" x="424" y="833.5">甲方（公章）：_________</text></g>
<g id="n2-5b" class="n"><rect x="418" y="868" width="139" height="25" rx="5"/><text class="t" x="424" y="884.5">乙方（公章）：_________</text></g>
<g id="n2-5c" class="n"><rect x="384" y="920" width="173" height="25" rx="5"/><text class="t" x="390" y="936.5">法定代表人（签字）：_________</text></g>
<g id="n2-5d" class="n"><rect x="384" y="971" width="173" height="25" rx="5"/><text class="t" x="390" y="987.5">法定代表人（签字）：_________</text></g>
<g id="n2-5e" class="n"><rect x="423" y="1022" width="134" height="25" rx="5"/><text class="t" x="429" y="1038.5">_________年___月___日</text></g>
<g id="n2-5f" class="n"><rect x="428" y="1073" width="129" height="25" rx="5"/><text class="t" x="434" y="1089.5">________年___月___日</text></g>

<g id="n4-jia" class="n"><rect x="741" y="1123" width="81" height="25" rx="5"/><text class="t" x="747" y="1139.5">甲方：______</text></g>
<g id="n4-yi" class="n"><rect x="741" y="1174" width="81" height="25" rx="5"/><text class="t" x="747" y="1190.5">乙方：______</text></g>
<g id="n4-main" class="n"><rect x="579" y="1727" width="243" height="55" rx="5"/><text class="t"><tspan x="585" y="1743.5">经甲、乙双方充分协商，甲方同意</tspan><tspan x="585" y="1758.5">将甲方全部资产转让给乙方，经双</tspan><tspan x="585" y="1773.5">方订立合同条款如下：</tspan></text></g>
<g id="n4-1" class="n"><rect x="376" y="1227" width="181" height="25" rx="5"/><text class="t" x="382" y="1243.5">一、转让费共计人民币_____元。</text></g>
<g id="n4-2" class="n"><rect x="315" y="1278" width="242" height="55" rx="5"/><text class="t"><tspan x="321" y="1294.5">二、本合同生效后日内乙方支付给甲方转让费</tspan><tspan x="321" y="1309.5">元，余款元，待相关变更登记手续办理完毕日</tspan><tspan x="321" y="1324.5">内一次性付清。</tspan></text></g>
<g id="n4-3" class="n"><rect x="315" y="1360" width="242" height="70" rx="5"/><text class="t"><tspan x="321" y="1376.5">三、乙方在支付第一批转让款的同时，甲方应</tspan><tspan x="321" y="1391.5">将审计报告书中所列全部有形资产及无形资产</tspan><tspan x="321" y="1406.5">移交给乙方。双方代表在资产移交清单上签字</tspan><tspan x="321" y="1421.5">后，乙方取得全部甲方移交财产的所有权。</tspan></text></g>
<g id="n4-4" class="n"><rect x="315" y="1456" width="242" height="85" rx="5"/><text class="t"><tspan x="321" y="1472.5">四、甲方应协同乙方将甲方企业法定代表人变</tspan><tspan x="321" y="1487.5">更为乙方指定自然人，同时应注销原股东的出</tspan><tspan x="321" y="1502.5">资证明书，向新股东签发出资证明书，并依法</tspan><tspan x="321" y="1517.5">办理相关变更登记手续，所需费用由乙方承担</tspan><tspan x="321" y="1532.5">。</tspan></text></g>
<g id="n4-5" class="n"><rect x="315" y="1566" width="242" height="85" rx="5"/><text class="t"><tspan x="321" y="1582.5">五、本合同生效后，甲方及原股东对公司转让</tspan><tspan x="321" y="1597.5">给乙方之前的全部债务承担清偿责任，甲方应</tspan><tspan x="321" y="1612.5">保证除审计报告列明公司所欠债权债务外没有</tspan><tspan x="321" y="1627.5">其它债权债务，若有由甲方及其原股东全部承</tspan><tspan x="321" y="1642.5">担。</tspan></text></g>
<g id="n4-6" class="n"><rect x="315" y="1677" width="242" height="100" rx="5"/><text class="t"><tspan x="321" y="1693.5">六、甲方及其原股东对依照本合同转让给乙方</tspan><tspan x="321" y="1708.5">的所有财产权属保证真实合法，没有任何权利</tspan><tspan x="321" y="1723.5">、权属争议纠纷，若因此原因给乙方造成经济</tspan><tspan x="321" y="1738.5">损失或使乙方无法正常经营和本转让合同由此</tspan><tspan x="321" y="1753.5">失效，甲方及其原股东将赔偿乙方因履行该合</tspan><tspan x="321" y="1768.5">同而直接投入款项总额的2倍予以补偿。</tspan></text></g>
<g id="n4-7" class="n"><rect x="315" y="1803" width="242" height="70" rx="5"/><text class="t"><tspan x="321" y="1819.5">七、本合同生效后，甲方同第三人签订的有关</tspan><tspan x="321" y="1834.5">协议、合同等文件随本转让合同生效之日全部</tspan><tspan x="321" y="1849.5">终止，确实需要延续的，由乙方对原协议、合</tspan><tspan x="321" y="1864.5">同进行书面确认或重新与第三方签订。</tspan></text></g>
<g id="n4-8" class="n"><rect x="315" y="1899" width="242" height="85" rx="5"/><text class="t"><tspan x="321" y="1915.5">八、本合同生效后，甲方的无形资产所有权及</tspan><tspan x="321" y="1930.5">使用权均归乙方所属，甲方应无条件向乙方移</tspan><tspan x="321" y="1945.5">交房屋、土地权属证、企业营业执照正、副本</tspan><tspan x="321" y="1960.5">、税务登记证、企业代码证、商标使用证、企</tspan><tspan x="321" y="1975.5">业档案资料等所有相关文件。</tspan></text></g>
<g id="n4-9" class="n"><rect x="315" y="2009" width="242" height="55" rx="5"/><text class="t"><tspan x="321" y="2025.5">九、因本转让合同所产生的税费等支出，按法</tspan><tspan x="321" y="2040.5">律规定由各方自行承担，法律没有规定的，由</tspan><tspan x="321" y="2055.5">双方各承担一半。</tspan></text></g>
<g id="n4-10" class="n"><rect x="315" y="2227" width="242" height="85" rx="5"/><text class="t"><tspan x="321" y="2243.5">十、合同生效后，甲方应积极协调企业厂区内</tspan><tspan x="321" y="2258.5">外围环境，确保乙方水、电路畅通，与周边单</tspan><tspan x="321" y="2273.5">位、人员和谐，若因甲方与周边环境纠纷存在</tspan><tspan x="321" y="2288.5">历史遗留问题导致乙方经济损失，甲方及其原</tspan><tspan x="321" y="2303.5">股东应予全额赔偿。</tspan></text></g>
<g id="n4-11" class="n"><rect x="50" y="2091" width="242" height="70" rx="5"/><text class="t"><tspan x="56" y="2107.5">十一、本协议签订生效后，若甲方违反协议，</tspan><tspan x="56" y="2122.5">应支付乙方转让款10%的违约金给乙方;若乙</tspan><tspan x="56" y="2137.5">方违反协议，亦应支付给甲方转让款的10%</tspan><tspan x="56" y="2152.5">违约金。</tspan></text></g>
<g id="n4-12" class="n"><rect x="50" y="2186" width="242" height="55" rx="5"/><text class="t"><tspan x="56" y="2202.5">十二、甲方出具委托书，指定为全权代理经办</tspan><tspan x="56" y="2217.5">人，具体与乙方接洽，负责经办履行合同相关</tspan><tspan x="56" y="2232.5">事宜。</tspan></text></g>
<g id="n4-13" class="n"><rect x="50" y="2267" width="242" height="55" rx="5"/><text class="t"><tspan x="56" y="2283.5">十三、本合同自甲、乙双方代表或代理人签字</tspan><tspan x="56" y="2298.5">之日起生效,一式四份，甲、乙双方各执两份</tspan><tspan x="56" y="2313.5">。</tspan></text></g>
<g id="n4-14" class="n"><rect x="149" y="2349" width="143" height="25" rx="5"/><text class="t" x="155" y="2365.5">甲方：_____乙方：_____</text></g>
<g id="n4-15" class="n"><rect x="153" y="2400" width="139" height="25" rx="5"/><text class="t" x="159" y="2416.5">____年____月____日</text></g>

<g id="n6-zr" class="n"><rect x="678" y="2451" width="144" height="25" rx="5"/><text class="t" x="684" y="2467.5">转让方(以下简称"甲方")：</text></g>
<g id="n6-sr" class="n"><rect x="689" y="2502" width="133" height="25" rx="5"/><text class="t" x="695" y="2518.5">受让方(以下称"乙方")：</text></g>
<g id="n6-main" class="n"><rect x="579" y="3480" width="243" height="55" rx="5"/><text class="t"><tspan x="585" y="3496.5">甲方、乙方经过友好协商，同意共同进行协作</tspan><tspan x="585" y="3511.5">和配合，就甲方资产转让事宜，达成协议如下</tspan><tspan x="585" y="3526.5">：</tspan></text></g>
<g id="n6-1" class="n"><rect x="315" y="2554" width="241" height="40" rx="5"/><text class="t"><tspan x="321" y="2570.5">1、甲方同意将位于______甲方所有的资产转</tspan><tspan x="321" y="2585.5">让予乙方。</tspan></text></g>
<g id="n6-2" class="n"><rect x="315" y="2631" width="241" height="85" rx="5"/><text class="t"><tspan x="321" y="2647.5">2、有关甲方所拥有的拟向乙方转让的全部固</tspan><tspan x="321" y="2662.5">定资产包括列载于本协议附件一的资产评估报</tspan><tspan x="321" y="2677.5">告内，于评估基准日的全部固定资产。甲乙双</tspan><tspan x="321" y="2692.5">方确认，在交割日，甲方将上述全部固定资产</tspan><tspan x="321" y="2707.5">作为转让资产向乙方转让，包括：</tspan></text></g>
<g id="n6-2a" class="n"><rect x="50" y="2620" width="242" height="40" rx="5"/><text class="t"><tspan x="56" y="2636.5">(1)列载于资产评估报告内的有关企业的所有</tspan><tspan x="56" y="2651.5">机器设备、建筑物及在建工程。</tspan></text></g>
<g id="n6-2b" class="n"><rect x="50" y="2686" width="242" height="40" rx="5"/><text class="t"><tspan x="56" y="2702.5">(2)列载于资产评估报告内的有关企业的土地</tspan><tspan x="56" y="2717.5">使用权。</tspan></text></g>
<g id="n6-3" class="n"><rect x="315" y="2752" width="241" height="40" rx="5"/><text class="t"><tspan x="321" y="2768.5">3、双方协商一致的转让交割日为：______年_</tspan><tspan x="321" y="2783.5">__月____日</tspan></text></g>
<g id="n6-4" class="n"><rect x="315" y="2818" width="241" height="55" rx="5"/><text class="t"><tspan x="321" y="2834.5">4、自本协议规定的交割日起，乙方即成为该</tspan><tspan x="321" y="2849.5">转让资产的合法所有者，享有并承担与转让资</tspan><tspan x="321" y="2864.5">产有关的一切权利和义务。</tspan></text></g>
<g id="n6-5" class="n"><rect x="315" y="2900" width="241" height="85" rx="5"/><text class="t"><tspan x="321" y="2916.5">5、甲乙双方协商一致，根据资产评估结果，</tspan><tspan x="321" y="2931.5">甲、乙双方一致同意，以______万元人民币作</tspan><tspan x="321" y="2946.5">为固定资产转让价格;乙方于______年____月__</tspan><tspan x="321" y="2961.5">__日前向甲方全额支付。(以甲方银行到账为</tspan><tspan x="321" y="2976.5">准)</tspan></text></g>
<g id="n6-6" class="n"><rect x="320" y="3278" width="236" height="25" rx="5"/><text class="t" x="326" y="3294.5">6、甲方在此向乙方声明、保证及承诺如下：</text></g>
<g id="n6-6a" class="n"><rect x="55" y="3011" width="242" height="85" rx="5"/><text class="t"><tspan x="61" y="3027.5">甲方是根据中国法律正式设立和合法存续的有</tspan><tspan x="61" y="3042.5">限责任公司，并具有一切必要的权利、权力及</tspan><tspan x="61" y="3057.5">能力订立及履行本协议项下的所有义务和责任</tspan><tspan x="61" y="3072.5">;而本协议一经签署即对甲方具有合法、有效</tspan><tspan x="61" y="3087.5">的约束力。</tspan></text></g>
<g id="n6-6b" class="n"><rect x="55" y="3122" width="242" height="115" rx="5"/><text class="t"><tspan x="61" y="3138.5">甲方保证合法拥有其目前正在拥有并在本协议</tspan><tspan x="61" y="3153.5">所述交割日之前继续拥有的全部转让资产。除</tspan><tspan x="61" y="3168.5">已向乙方作明确的书面披露者外，并不存在任</tspan><tspan x="61" y="3183.5">何对上述资产及权益的价值及运用、转让、处</tspan><tspan x="61" y="3198.5">分这些资产及权益的能力产生任何不利影响的</tspan><tspan x="61" y="3213.5">抵押、担保或其他任何第三者权利或其他限制</tspan><tspan x="61" y="3228.5">。</tspan></text></g>
<g id="n6-6c" class="n"><rect x="55" y="3263" width="242" height="100" rx="5"/><text class="t"><tspan x="61" y="3279.5">除已向乙方作明确的书面披露者外，甲方没有</tspan><tspan x="61" y="3294.5">正在进行的、以甲方为一方的或以甲方的转让</tspan><tspan x="61" y="3309.5">资产的任何部分为标的的，如作出对甲方不利</tspan><tspan x="61" y="3324.5">的判决或裁定即可能单独或综合一起对转让资</tspan><tspan x="61" y="3339.5">产状况或业务经营产生重大不利影响的任何诉</tspan><tspan x="61" y="3354.5">讼、仲裁或行政处理程序。</tspan></text></g>
<g id="n6-6d" class="n"><rect x="55" y="3389" width="242" height="85" rx="5"/><text class="t"><tspan x="61" y="3405.5">甲方在交割日之前对其所使用的土地的使用是</tspan><tspan x="61" y="3420.5">合法的，并不需要补交任何税费，且并不存在</tspan><tspan x="61" y="3435.5">任何未正式向乙方披露的因甲方在交割日前对</tspan><tspan x="61" y="3450.5">土地的使用而需要乙方承担或履行的义务或责</tspan><tspan x="61" y="3465.5">任。</tspan></text></g>
<g id="n6-6e" class="n"><rect x="55" y="3499" width="242" height="55" rx="5"/><text class="t"><tspan x="61" y="3515.5">甲方将按照国家法律及有关政策的精神与乙方</tspan><tspan x="61" y="3530.5">共同妥善处理本协议所述资产转让过程中的任</tspan><tspan x="61" y="3545.5">何未尽事宜。</tspan></text></g>
<g id="n6-7" class="n"><rect x="400" y="3689" width="156" height="26" rx="5"/><text class="t" x="406" y="3706">7、乙方承诺、声明及保证：</text></g>
<g id="n6-7a" class="n"><rect x="136" y="3580" width="242" height="40" rx="5"/><text class="t"><tspan x="142" y="3596.5">乙方妥善维护使用受让的资产，从事合法的经</tspan><tspan x="142" y="3611.5">营活动。</tspan></text></g>
<g id="n6-7b" class="n"><rect x="136" y="3647" width="242" height="40" rx="5"/><text class="t"><tspan x="142" y="3663.5">乙方承诺若再次转让所获得的资产时，甲方或</tspan><tspan x="142" y="3678.5">甲方指派的代表人有绝对优先回购的权利。</tspan></text></g>
<g id="n6-7c" class="n"><rect x="136" y="3713" width="242" height="55" rx="5"/><text class="t"><tspan x="142" y="3729.5">乙方将按照国家法律及有关政策的精神与甲方</tspan><tspan x="142" y="3744.5">共同妥善处理本协议所述产权转让过程中的任</tspan><tspan x="142" y="3759.5">何未尽事宜。</tspan></text></g>
<g id="n6-7d" class="n"><rect x="159" y="3794" width="219" height="25" rx="5"/><text class="t" x="165" y="3810.5">按照本协议的规定向甲方支付转让价款。</text></g>
<g id="n6-8" class="n"><rect x="315" y="3845" width="241" height="85" rx="5"/><text class="t"><tspan x="321" y="3861.5">8、保密条款：除中国有关法律、法规或有关</tspan><tspan x="321" y="3876.5">公司章程的明文规定或要求外，未经他方事先</tspan><tspan x="321" y="3891.5">书面同意，任何一方在本协议所述交易完成前</tspan><tspan x="321" y="3906.5">或完成后，不得将本协议的有关内容向本次交</tspan><tspan x="321" y="3921.5">易参与各方之外的任何第三人透露。</tspan></text></g>
<g id="n6-9" class="n"><rect x="315" y="3955" width="241" height="70" rx="5"/><text class="t"><tspan x="321" y="3971.5">9、违约责任：任何一方违反其在本协议中的</tspan><tspan x="321" y="3986.5">任何声明、保证和承诺，或本协议的任何条款</tspan><tspan x="321" y="4001.5">，即构成违约。违约方应向守约方支付全面和</tspan><tspan x="321" y="4016.5">足额的赔偿。</tspan></text></g>
<g id="n6-10" class="n"><rect x="315" y="4052" width="241" height="40" rx="5"/><text class="t"><tspan x="321" y="4068.5">10、甲、乙双方一致同意，本协议经甲、乙</tspan><tspan x="321" y="4083.5">双方授权代表签字及加盖双方公章即生效。</tspan></text></g>
<g id="n6-11" class="n"><rect x="463" y="4161" width="93" height="25" rx="5"/><text class="t" x="469" y="4177.5">11、争议的解决</text></g>
<g id="n6-11a" class="n"><rect x="198" y="4119" width="242" height="40" rx="5"/><text class="t"><tspan x="204" y="4135.5">.凡因执行本协议发生的与本协议有关的一切</tspan><tspan x="204" y="4150.5">争议，协议双方应通过友好协商解决。</tspan></text></g>
<g id="n6-11b" class="n"><rect x="198" y="4185" width="242" height="55" rx="5"/><text class="t"><tspan x="204" y="4201.5">.根据中国有关法律，如果本协议任何条款由</tspan><tspan x="204" y="4216.5">法庭裁决为无效，不影响本协议其它条款的持</tspan><tspan x="204" y="4231.5">续有效和执行。</tspan></text></g>
<g id="n6-12" class="n"><rect x="315" y="4265" width="241" height="55" rx="5"/><text class="t"><tspan x="321" y="4281.5">12、甲、乙双方一致同意，双方因履行本协</tspan><tspan x="321" y="4296.5">议而应缴纳的任何税款或费用，均应根据中国</tspan><tspan x="321" y="4311.5">有关法律、法规的规定缴纳。</tspan></text></g>
<g id="n6-13" class="n"><rect x="315" y="4345" width="241" height="40" rx="5"/><text class="t"><tspan x="321" y="4361.5">13、本协议所有附件是本协议不可分割的组</tspan><tspan x="321" y="4376.5">成部分，具有同等法律效力。</tspan></text></g>
<g id="n6-14" class="n"><rect x="315" y="4412" width="241" height="55" rx="5"/><text class="t"><tspan x="321" y="4428.5">14、本协议以中文书正本一式____份，甲乙双</tspan><tspan x="321" y="4443.5">方各持____份。每份正本均具有同等法律效力</tspan><tspan x="321" y="4458.5">。</tspan></text></g>
<g id="n6-jz" class="n"><rect x="745" y="4493" width="77" height="25" rx="5"/><text class="t" x="751" y="4509.5">甲方(盖章)：</text></g>
<g id="n6-fd1" class="n"><rect x="710" y="4544" width="112" height="25" rx="5"/><text class="t" x="716" y="4560.5">法定代表人(签字)：</text></g>
<g id="n6-d1" class="n"><rect x="636" y="4544" width="53" height="25" rx="5"/><text class="t" x="642" y="4560.5">年 月 日</text></g>
<g id="n6-yz" class="n"><rect x="745" y="4595" width="77" height="25" rx="5"/><text class="t" x="751" y="4611.5">乙方(盖章)：</text></g>
<g id="n6-fd2" class="n"><rect x="710" y="4646" width="112" height="25" rx="5"/><text class="t" x="716" y="4662.5">法定代表人(签字)：</text></g>
<g id="n6-d2" class="n"><rect x="636" y="4646" width="53" height="25" rx="5"/><text class="t" x="642" y="4662.5">年 月 日</text></g>

<g id="watermark" class="wm">
<text transform="rotate(-30 345 705)" x="345" y="705"><tspan font-size="85">树图</tspan><tspan font-size="130"> shutu.cn</tspan></text>
<text transform="rotate(-30 1640 750)" x="1640" y="750"><tspan font-size="85">树图</tspan><tspan font-size="130"> shutu.cn</tspan></text>
<text transform="rotate(-30 345 1690)" x="345" y="1690"><tspan font-size="85">树图</tspan><tspan font-size="130"> shutu.cn</tspan></text>
<text transform="rotate(-30 1640 1735)" x="1640" y="1735"><tspan font-size="85">树图</tspan><tspan font-size="130"> shutu.cn</tspan></text>
<text transform="rotate(-30 345 2665)" x="345" y="2665"><tspan font-size="85">树图</tspan><tspan font-size="130"> shutu.cn</tspan></text>
<text transform="rotate(-30 1640 2690)" x="1640" y="2690"><tspan font-size="85">树图</tspan><tspan font-size="130"> shutu.cn</tspan></text>
<text transform="rotate(-30 345 3665)" x="345" y="3665"><tspan font-size="85">树图</tspan><tspan font-size="130"> shutu.cn</tspan></text>
<text transform="rotate(-30 1640 3695)" x="1640" y="3695"><tspan font-size="85">树图</tspan><tspan font-size="130"> shutu.cn</tspan></text>
<text transform="rotate(-30 345 4660)" x="345" y="4660"><tspan font-size="85">树图</tspan><tspan font-size="130"> shutu.cn</tspan></text>
<text transform="rotate(-30 1640 4690)" x="1640" y="4690"><tspan font-size="85">树图</tspan><tspan font-size="130"> shutu.cn</tspan></text>
</g>
</svg>
